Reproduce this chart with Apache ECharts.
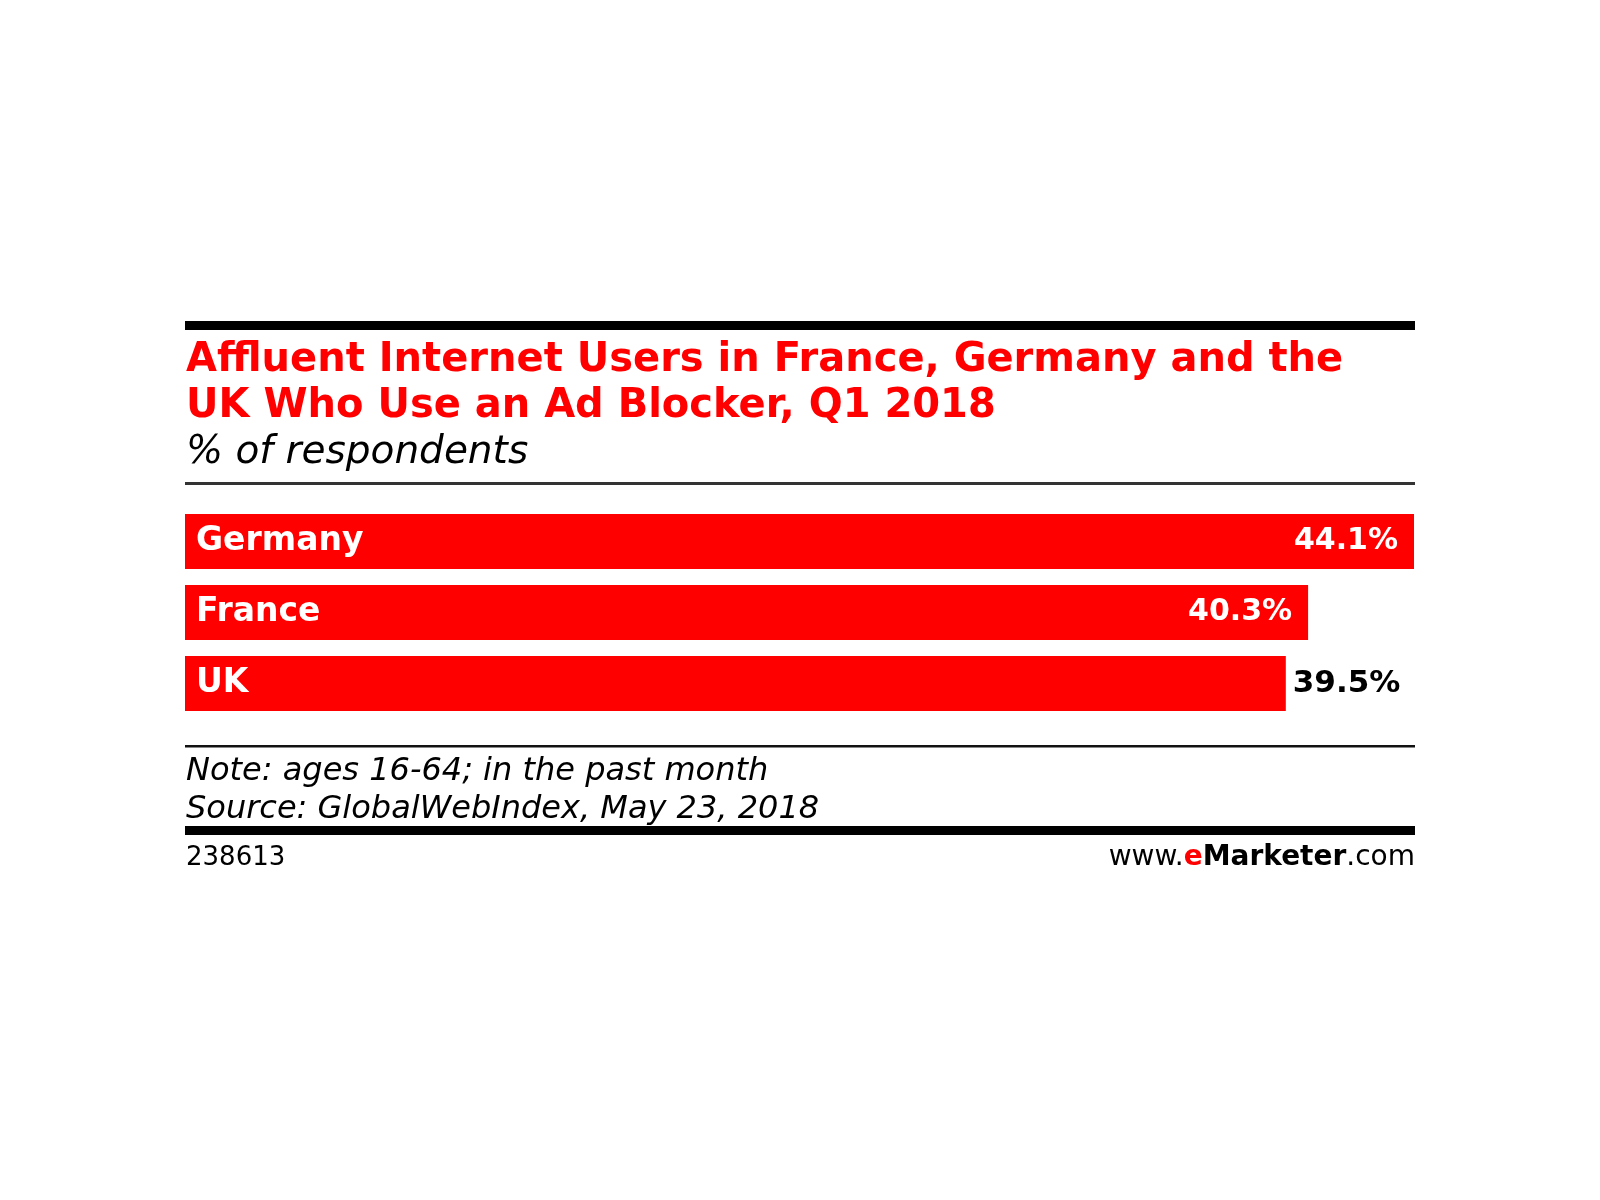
<!DOCTYPE html>
<html>
<head>
<meta charset="utf-8">
<script src="https://cdn.jsdelivr.net/npm/echarts@6/dist/echarts.min.js"></script>
<style>
html,body{margin:0;padding:0;background:#fff;}
#chart{width:1600px;height:1200px;}
</style>
</head>
<body>
<div id="chart"></div>
<script>
const categories = ['Germany', 'France', 'UK'];
const values = [44.1, 40.3, 39.5];
const titleLines = ['Affluent Internet Users in France, Germany and the', 'UK Who Use an Ad Blocker, Q1 2018'];
const subtitle = '% of respondents';
const noteText = 'Note: ages 16-64; in the past month';
const sourceText = 'Source: GlobalWebIndex, May 23, 2018';
const chartId = '238613';

const RED = '#ff0000';
const chart = echarts.init(document.getElementById('chart'));

const barData = values.map((v, i) => {
  if (i === values.length - 1) {
    return {
      value: v,
      label: { position: 'right', distance: 7, color: '#000', fontWeight: 'bold', fontSize: 31 }
    };
  }
  return v;
});

const option = {
  backgroundColor: '#ffffff',
  animation: false,
  grid: { left: 185, width: 1229, top: 506, height: 213, containLabel: false },
  xAxis: { type: 'value', min: 0, max: 44.1, show: false },
  yAxis: {
    type: 'category',
    data: categories,
    inverse: true,
    z: 5,
    axisLine: { show: false },
    axisTick: { show: false },
    splitLine: { show: false },
    axisLabel: {
      inside: true,
      margin: 11,
      color: '#ffffff',
      fontFamily: 'DejaVu Sans',
      fontWeight: 'bold',
      fontSize: 33
    }
  },
  series: [{
    type: 'bar',
    data: barData,
    barWidth: 55,
    itemStyle: { color: RED },
    label: {
      show: true,
      position: 'insideRight',
      distance: 16,
      color: '#ffffff',
      fontFamily: 'DejaVu Sans',
      fontWeight: 'bold',
      fontSize: 30,
      formatter: p => p.value + '%'
    }
  }],
  graphic: [
    { type: 'rect', shape: { x: 185, y: 321, width: 1230, height: 9 }, style: { fill: '#000' } },
    { type: 'text', x: 186, y: 361, style: { text: titleLines[0], fill: RED, font: 'bold 40px "DejaVu Sans"', verticalAlign: 'middle', align: 'left' } },
    { type: 'text', x: 186, y: 407, style: { text: titleLines[1], fill: RED, font: 'bold 40px "DejaVu Sans"', verticalAlign: 'middle', align: 'left' } },
    { type: 'text', x: 186, y: 453, style: { text: subtitle, fill: '#000', font: 'italic 39px "DejaVu Sans"', verticalAlign: 'middle', align: 'left' } },
    { type: 'rect', shape: { x: 185, y: 482, width: 1230, height: 3 }, style: { fill: '#333' } },
    { type: 'rect', shape: { x: 185, y: 745, width: 1230, height: 2.5 }, style: { fill: '#111' } },
    { type: 'text', x: 186, y: 772, style: { text: noteText, fill: '#000', font: 'italic 32px "DejaVu Sans"', verticalAlign: 'middle', align: 'left' } },
    { type: 'text', x: 186, y: 810, style: { text: sourceText, fill: '#000', font: 'italic 32px "DejaVu Sans"', verticalAlign: 'middle', align: 'left' } },
    { type: 'rect', shape: { x: 185, y: 826, width: 1230, height: 9 }, style: { fill: '#000' } },
    { type: 'text', x: 186, y: 858, style: { text: chartId, fill: '#000', font: '26px "DejaVu Sans"', verticalAlign: 'middle', align: 'left' } },
    { type: 'text', x: 1415, y: 858, style: {
        text: '{a|www.}{b|e}{c|Marketer}{a|.com}',
        align: 'right', verticalAlign: 'middle',
        rich: {
          a: { fontFamily: 'DejaVu Sans', fontSize: 28, fill: '#000', color: '#000' },
          b: { fontFamily: 'DejaVu Sans', fontSize: 28, fontWeight: 'bold', fill: RED, color: RED },
          c: { fontFamily: 'DejaVu Sans', fontSize: 28, fontWeight: 'bold', fill: '#000', color: '#000' }
        }
      } }
  ]
};
chart.setOption(option);
</script>
</body>
</html>
